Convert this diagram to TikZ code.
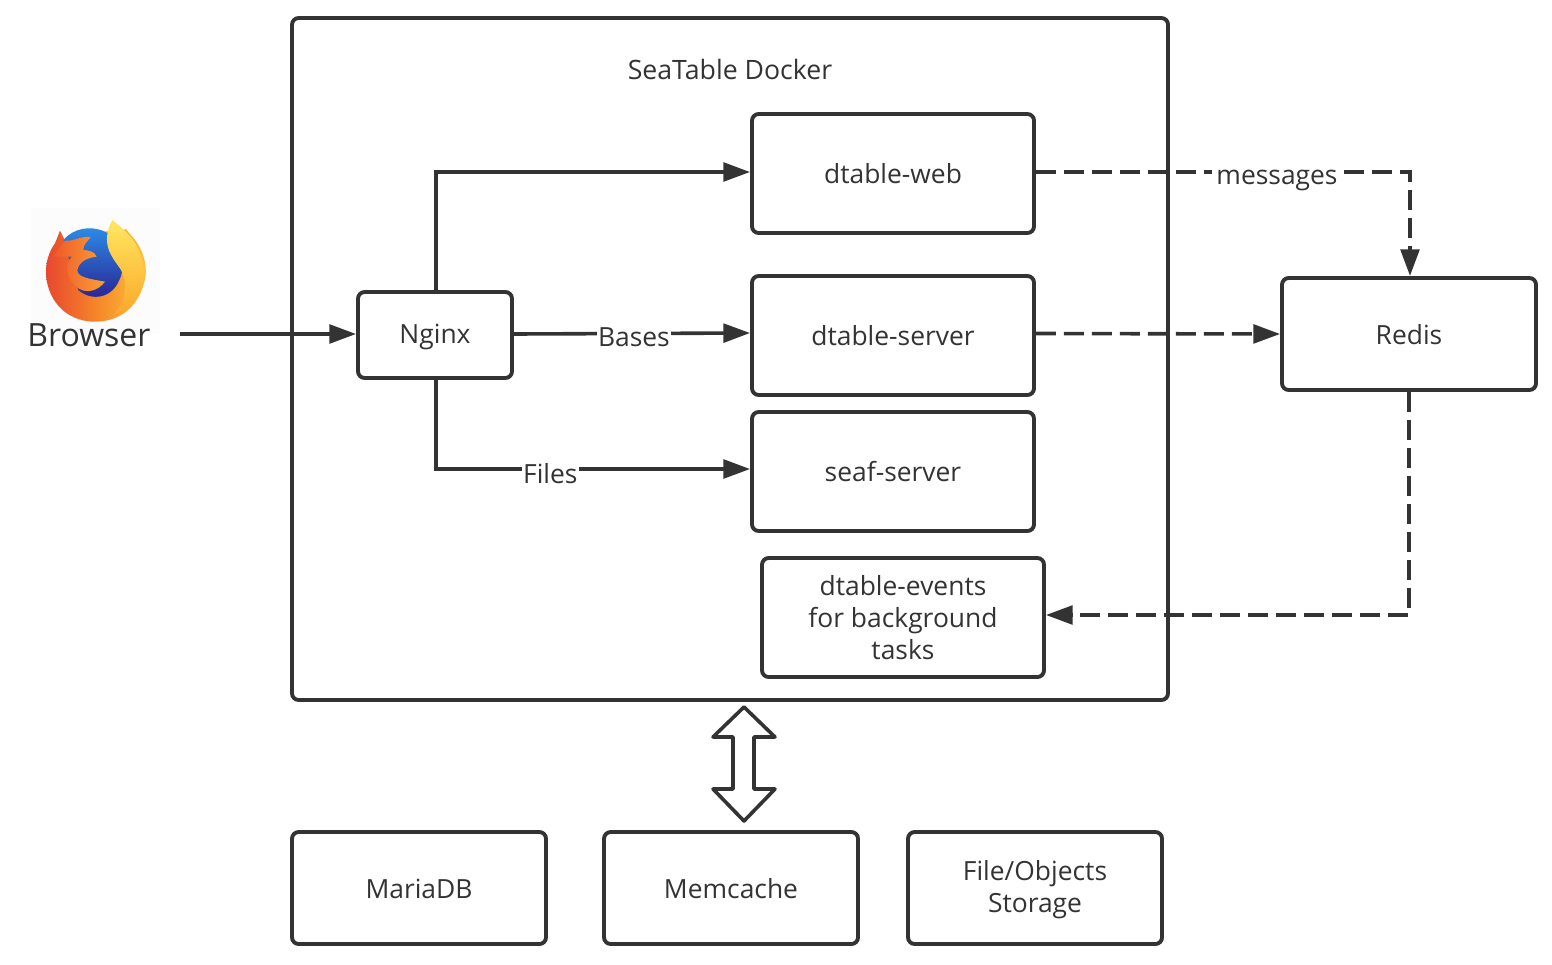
\documentclass[tikz,border=0pt]{standalone}
\usepackage{fontspec}
\setmainfont{Open Sans}
\usetikzlibrary{arrows.meta,calc}
\definecolor{ink}{HTML}{333333}
\definecolor{ffred}{HTML}{E8472E}
\definecolor{ffmid}{HTML}{F5872A}
\definecolor{ffright}{HTML}{FFC53A}
\definecolor{ffbluetop}{HTML}{2B8FE8}
\definecolor{ffbluebot}{HTML}{2A1F8F}
\definecolor{fffoxl}{HTML}{EF5A2A}
\definecolor{fffoxr}{HTML}{F9A035}
\definecolor{ffflamet}{HTML}{FFE760}
\definecolor{ffflameb}{HTML}{FBA82A}
\newcommand{\st}{\rule[-3pt]{0pt}{21pt}}
\tikzset{
  x=0.75pt,y=-0.75pt,
  ln/.style={draw=ink,line width=2.9pt},
  boxn/.style={ln,rounded corners=5pt,fill=none,inner sep=0pt,text=ink,align=center,font=\fontsize{19.8pt}{24pt}\selectfont},
  wire/.style={draw=ink,line width=2.7pt,-{Triangle[length=20pt,width=14pt]}},
  dash wire/.style={wire,dash pattern=on 15pt off 6pt},
  tag/.style={fill=white,inner xsep=1pt,inner ysep=0pt,text=ink,font=\fontsize{19.8pt}{24pt}\selectfont},
}
\newcommand{\bx}[6][]{\node[boxn,minimum width=#4*0.75pt,minimum height=#5*0.75pt,#1] (#2) at (#3) {#6};}
\begin{document}
\begin{tikzpicture}
\useasboundingbox (0,0) rectangle (1552,964);
% outer
\node[boxn,minimum width=657pt,minimum height=511.5pt] (docker) at (730,359) {};
\node[text=ink,font=\fontsize{20pt}{24pt}\selectfont] (title) at (730,69) {\st SeaTable Docker};
% boxes
\bx{nginx}{435,335}{154}{86}{\st Nginx}
\bx{web}{893,173.5}{282}{119}{\st dtable-web}
\bx{server}{893,335.5}{282}{119}{\st dtable-server}
\bx{seaf}{893,471.5}{282}{119}{\st seaf-server}
\bx{events}{903,617.5}{282}{119}{\st dtable-events\\\st for background\\\st tasks}
\bx{redis}{1409,334}{254}{112}{\st Redis}
\bx{maria}{419,888}{254}{112}{\st MariaDB}
\bx{memc}{731,888}{254}{112}{\st Memcache}
\bx{files}{1035,888}{254}{112}{\st File/Objects\\\st Storage}
% browser logo
\fill[white!99!black] (31,208) rectangle (160,334);
\begin{scope}[shift={(20,200)},x=0.25pt,y=-0.25pt]
  \shade[left color=ffred,right color=ffright,middle color=ffmid]
    (105,130) -- (120,92) -- (135,122) -- (210,100) -- (318,88) -- (345,120)
    .. controls (375,160) and (385,210) .. (372,250)
    .. controls (350,330) and (290,365) .. (225,365)
    .. controls (130,365) and (78,290) .. (78,215)
    .. controls (78,180) and (90,150) .. (105,130) -- cycle;
  \shade[top color=ffbluetop,bottom color=ffbluebot]
    (130,120) .. controls (160,85) and (210,75) .. (255,95)
    .. controls (305,125) and (320,195) .. (298,240)
    .. controls (275,295) and (215,305) .. (175,270) -- cycle;
  \shade[left color=fffoxl,right color=fffoxr]
    (135,122) .. controls (160,125) and (190,105) .. (212,112)
    .. controls (200,125) and (190,135) .. (190,150)
    .. controls (205,150) and (225,155) .. (230,170)
    .. controls (205,172) and (175,185) .. (172,212)
    .. controls (175,232) and (205,236) .. (255,245)
    .. controls (235,272) and (200,282) .. (175,265)
    .. controls (140,240) and (130,200) .. (155,170) -- (100,170) -- cycle;
  \shade[top color=ffflamet,bottom color=ffflameb]
    (277,60) .. controls (300,80) and (345,110) .. (362,165)
    .. controls (385,230) and (370,310) .. (280,345)
    .. controls (320,305) and (325,245) .. (300,205)
    .. controls (275,170) and (240,130) .. (277,60) -- cycle;
\end{scope}
\node[inner sep=0pt,text=ink,font=\fontsize{24pt}{28pt}\selectfont] (browser) at (89,335) {Browser};
% connectors
\coordinate (bstart) at (180,334);
\coordinate (nup) at (436,292);
\coordinate (ndown) at (436,378);
\coordinate (nginxin) at ($(nginx.west)+(0,-1)$);
\coordinate (webin) at ($(web.west)+(0,-1.5)$);
\coordinate (webout) at ($(web.east)+(0,-1.5)$);
\coordinate (serverin) at ($(server.west)+(0,-2.5)$);
\coordinate (serverout) at ($(server.east)+(0,-2)$);
\coordinate (nginxout) at ($(nginx.east)+(0,-1)$);
\coordinate (seafin) at ($(seaf.west)+(0,-2.5)$);
\coordinate (eventsin) at ($(events.east)+(0,-2.5)$);
\draw[wire] (bstart) -- (nginxin);
\draw[wire] (nup) |- (webin);
\draw[wire] (nginxout) -- node[tag,pos=.508,yshift=-2.25pt] (bases) {\st Bases} (serverin);
\draw[wire] (ndown) |- node[tag,pos=.682,yshift=-3pt] (filesl) {\st Files} (seafin);
\coordinate (wend) at (1410,276);
\draw[dash wire] (webout) -- (1410,172) -- (wend);
\node[tag,inner xsep=3pt] (msg) at (1277,176) {\st messages};
\draw[dash wire] (serverout) -- (redis.west);
\draw[dash wire] (redis.south) |- (eventsin);
% double arrow
\draw[ln,line width=2.7pt,line join=round,fill=white] (744,707) -- (775,737) -- (754,737) -- (754,789) -- (775,789) -- (744,821) -- (713,789) -- (733,789) -- (733,737) -- (713,737) -- cycle;
\end{tikzpicture}
\end{document}
